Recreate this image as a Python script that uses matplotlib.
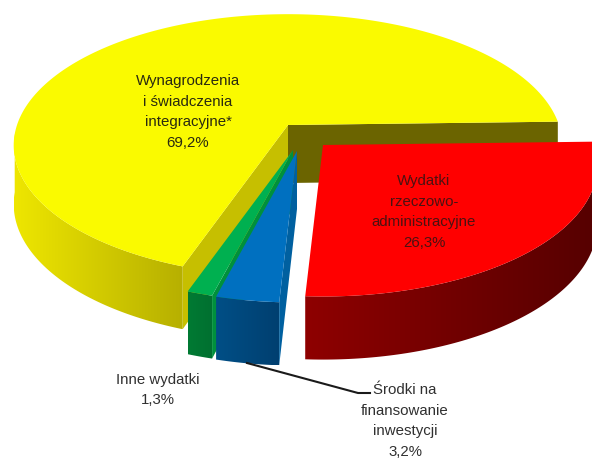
import numpy as np
import matplotlib
matplotlib.use("Agg")
import matplotlib.pyplot as plt
from matplotlib.colors import to_rgb
from matplotlib.patches import Polygon

categories = ["Wynagrodzenia\ni świadczenia\nintegracyjne*", "Inne wydatki",
              "Środki na\nfinansowanie\ninwestycji", "Wydatki\nrzeczowo-\nadministracyjne"]
values = [69.2, 1.3, 3.2, 26.3]
value_labels = ["69,2%", "1,3%", "3,2%", "26,3%"]

# look of the 3d pie, all in pixels of the picture
start = 1.5
rx, ry, k, depth = 271.0, 128.0, 0.155, 58.0
apexes = [(288, 125), (293, 150), (297, 151), (323, 145)]
tops = ["#fafa00", "#00b050", "#0070c0", "#ff0000"]
sides = ["#c6bf00", "#00903c", "#0060a0", "#5a0000"]
wall_from = ["#eee600", "#007a33", "#004f86", "#8e0000"]
wall_to = ["#b7b000", "#007030", "#003f70", "#560000"]
label_pos = [(188, 112), (158, 390), (405, 421), (424, 212)]
label_colors = ["#2a2a10", "#303030", "#303030", "#4a1212"]

plt.rcParams["font.family"] = ["Liberation Sans", "DejaVu Sans"]


def project(apex, a):
    a = np.radians(a)
    w = 1 + k * np.sin(a)
    x = apex[0] + rx * np.cos(a) / w
    y = apex[1] - ry * np.sin(a) / w
    drop = depth / w ** 0.5
    return x, y, drop


fig = plt.figure(figsize=(5.92, 4.59), dpi=100)
ax = fig.add_axes([0, 0, 1, 1])

edges = start + np.cumsum([0] + values) * 3.6

for i, v in enumerate(values):
    apex = apexes[i]
    a1, a2 = edges[i], edges[i + 1]

    # back side of the big slice
    if i == 0:
        xa, ya, da = project(apex, a1)
        ax.fill([apex[0], xa, xa, apex[0]], [apex[1], ya, ya + da, apex[1] + depth],
                color="#6b6400", lw=0, zorder=1)

    # outer wall with the shading running left to right
    t = np.linspace(max(a1, 184), a2, 120)
    xw, yw, dw = project(apex, t)
    pts = np.c_[np.r_[xw, xw[::-1]], np.r_[yw, (yw + dw)[::-1]]]
    wall = Polygon(pts, closed=True, transform=ax.transData, fc="none", ec="none")
    ax.add_patch(wall)
    ramp = np.linspace(to_rgb(wall_from[i]), to_rgb(wall_to[i]), 64)[np.newaxis, :, :]
    im = ax.imshow(ramp, extent=[xw.min(), xw.max(), (yw + dw).max(), yw.min()],
                   aspect="auto", interpolation="bilinear", zorder=2 + i)
    im.set_clip_path(wall)

    # inner side of the slice
    if i < 3:
        xb, yb, db = project(apex, a2)
        ax.fill([apex[0], xb, xb, apex[0]], [apex[1], yb, yb + db, apex[1] + depth],
                color=sides[i], lw=0, zorder=2 + i)

    # top of the slice
    t = np.linspace(a1, a2, 200)
    xt, yt, _ = project(apex, t)
    ax.fill(np.r_[apex[0], xt], np.r_[apex[1], yt], color=tops[i], lw=0, zorder=2 + i)

for i, name in enumerate(categories):
    ax.text(label_pos[i][0], label_pos[i][1], name + "\n" + value_labels[i], ha="center",
            va="center", fontsize=10.8, color=label_colors[i], linespacing=1.6, zorder=10)

# leader line of the blue slice
ax.plot([247, 358, 370], [363, 393, 393], color="#1a1a1a", lw=1.5, zorder=9)

ax.set_xlim(0, 592)
ax.set_ylim(459, 0)
ax.axis("off")

fig.savefig("out.png", dpi=100)
